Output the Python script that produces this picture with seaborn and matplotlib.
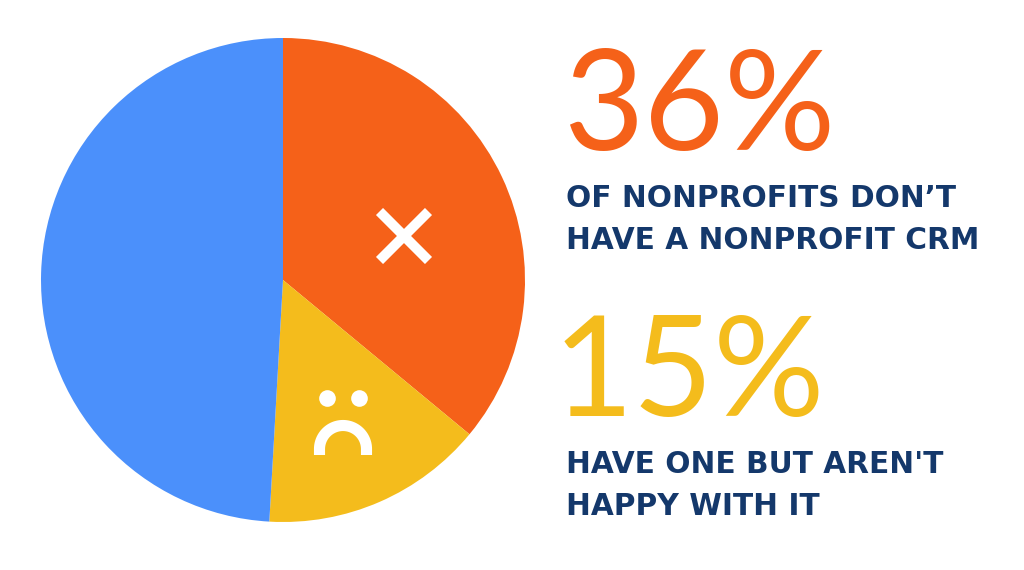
import matplotlib
matplotlib.use("Agg")
import matplotlib.pyplot as plt
import numpy as np
import seaborn as sns

sizes = [36, 14.9, 49.1]
colors = ["#F56119", "#F4BC1C", "#4B90FB"]
head1 = "36%"
head2 = "15%"
sub1 = ["OF NONPROFITS DON’T", "HAVE A NONPROFIT CRM"]
sub2 = ["HAVE ONE BUT AREN'T", "HAPPY WITH IT"]

sns.set_theme(style="white")
W, H = 1024, 570
fig = plt.figure(figsize=(W/100, H/100), dpi=100, facecolor="white")
ax = fig.add_axes([41/W, 1-522/H, 484/W, 484/H])
ax.pie(sizes, colors=colors, startangle=90, counterclock=False, radius=1,
       wedgeprops=dict(linewidth=0))
ax.set_xlim(-1, 1); ax.set_ylim(-1, 1); ax.set_aspect("equal")

ov = fig.add_axes([0, 0, 1, 1]); ov.set_xlim(0, W); ov.set_ylim(H, 0); ov.axis("off"); ov.patch.set_alpha(0)
ov.plot([379.5, 428.5], [211.5, 260.5], color="white", lw=7.2, solid_capstyle="butt")
ov.plot([428.5, 379.5], [211.5, 260.5], color="white", lw=7.2, solid_capstyle="butt")
ov.scatter([327, 359], [398, 398], s=144, color="white", linewidths=0)
t = np.linspace(np.pi, 2*np.pi, 60)
fx = np.r_[343 - 23.5, 343 + 23.5*np.cos(t), 343 + 23.5]
fy = np.r_[455, 449 + 23.5*np.sin(t), 455]
ov.plot(fx, fy, color="white", lw=8, solid_capstyle="butt")

ov.text(563, 150, head1, color=colors[0], fontsize=100, family="Lato", fontweight="normal", va="baseline")
ov.text(553, 416, head2, color=colors[1], fontsize=100, family="Lato", fontweight="normal", va="baseline")
navy = "#14386B"
for y, s in zip([207, 249], sub1):
    ov.text(566, y, s, color=navy, fontsize=21.3, family="DejaVu Sans", fontweight="bold", va="baseline")
for y, s in zip([473, 515], sub2):
    ov.text(566, y, s, color=navy, fontsize=21.3, family="DejaVu Sans", fontweight="bold", va="baseline")
fig.savefig("out.png", dpi=100, facecolor="white")
